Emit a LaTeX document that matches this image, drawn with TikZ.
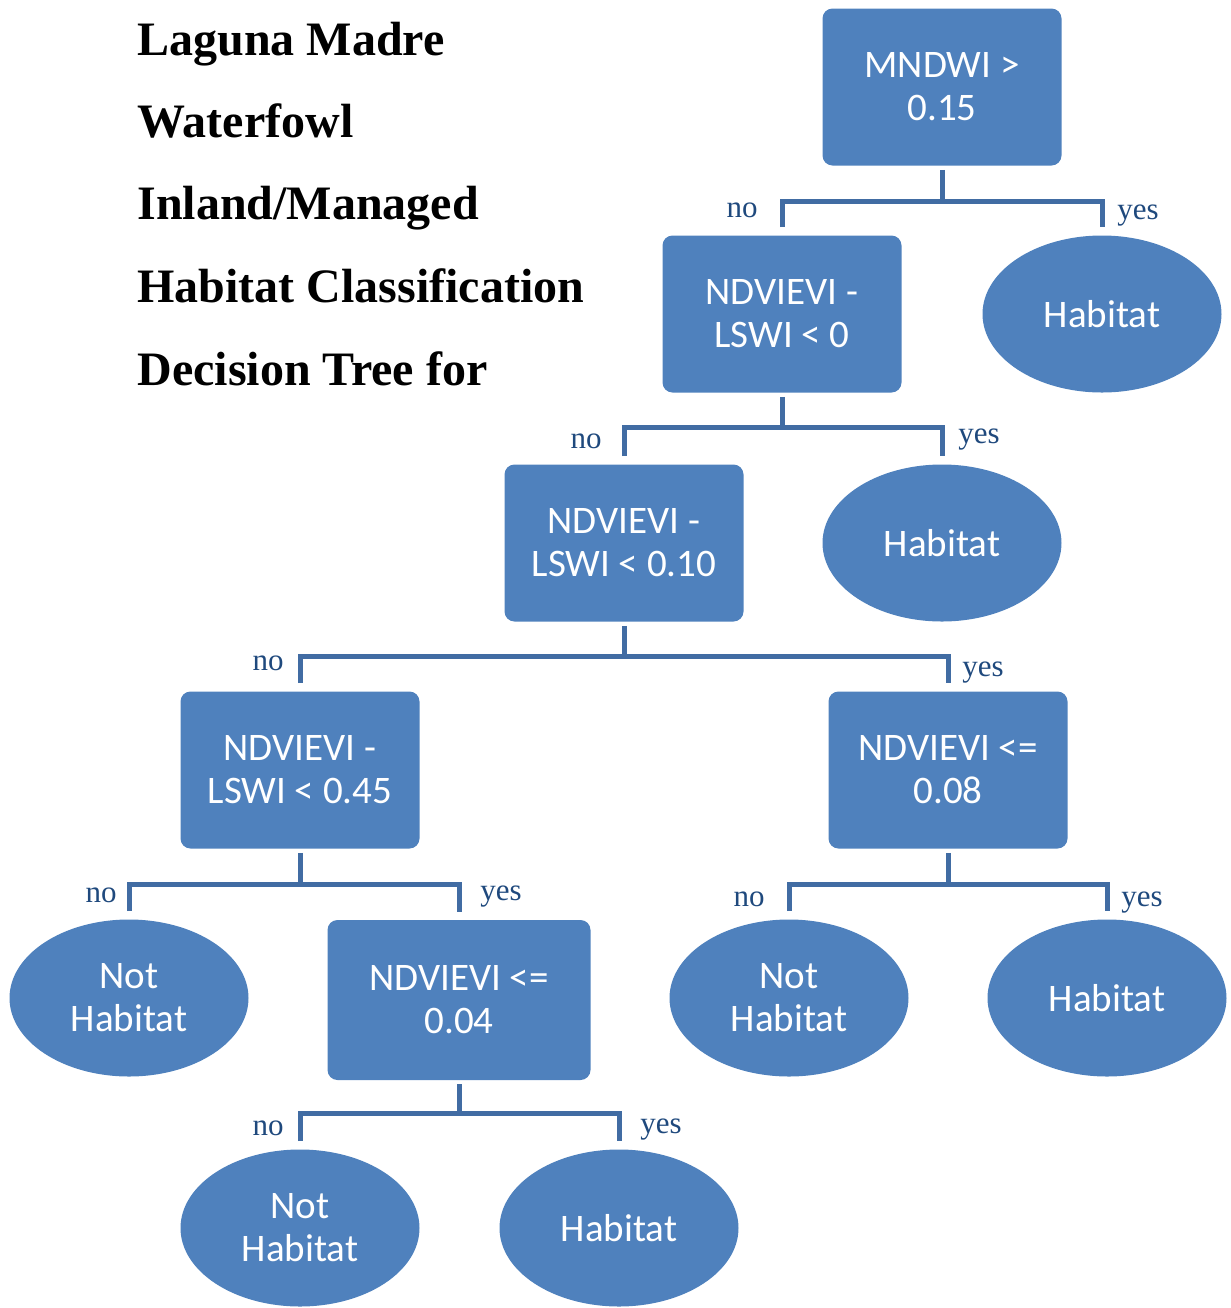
\documentclass[tikz,border=0pt]{standalone}
\usepackage{fontspec}
\setmainfont{Liberation Serif}
\newfontfamily\calfont{Carlito}
\usetikzlibrary{shapes.geometric,calc}
\definecolor{boxblue}{HTML}{4F81BD}
\definecolor{linkblue}{HTML}{416CA3}
\definecolor{lblblue}{HTML}{1F497D}
\tikzset{test/.style={rectangle,rounded corners=5pt,fill=boxblue,text=white,minimum width=119.5pt,minimum height=78.5pt,align=center,inner sep=2pt,font=\calfont\fontsize{19.5}{21.5}\selectfont}, leaf/.style={test,ellipse,rounded corners=0pt}, link/.style={draw=linkblue,line width=2.5pt}, lblno/.style={anchor=base east,inner sep=0pt,text=lblblue,font=\fontsize{15.5}{18}\selectfont}, lblyes/.style={lblno,anchor=base west}, title/.style={anchor=base west,inner sep=0pt,font=\bfseries\fontsize{24}{28}\selectfont}}
\begin{document}
\begin{tikzpicture}[x=0.5pt,y=-0.5pt]
\useasboundingbox (0,0) rectangle (1231,1308);
% heading
\node[title] (t1) at (137,55) {Laguna Madre};
\node[title] (t2) at (137,137) {Waterfowl};
\node[title] (t3) at (137,219) {Inland/Managed};
\node[title] (t4) at (137,302) {Habitat Classification};
\node[title] (t5) at (137,385) {Decision Tree for};
% tests and leaves
\node[test] (q1) at (942,87) {MNDWI >\\0.15};
\node[test] (q2) at (782,314) {NDVIEVI -\\LSWI < 0};
\node[leaf] (h1) at (1102,314) {Habitat};
\node[test] (q3) at (624,543) {NDVIEVI -\\LSWI < 0.10};
\node[leaf] (h2) at (942,543) {Habitat};
\node[test] (q4) at (300,770) {NDVIEVI -\\LSWI < 0.45};
\node[test] (q5) at (948,770) {NDVIEVI <=\\0.08};
\node[leaf] (n1) at (129,998) {Not\\Habitat};
\node[test,minimum width=131.5pt,minimum height=80pt] (q6) at (459,1000) {NDVIEVI <=\\0.04};
\node[leaf] (n2) at (789,998) {Not\\Habitat};
\node[leaf] (h3) at (1107,998) {Habitat};
\node[leaf] (n3) at (300,1228) {Not\\Habitat};
\node[leaf] (h4) at (619,1228) {Habitat};
% branches
\draw[link] ([yshift=-2pt]q1.south) -- ++(0,32) coordinate (j1);
\draw[link] ([yshift=4pt]q2.north) |- (j1) -| ([yshift=4pt]h1.north);
\node[lblno] (no1) at ($(j1 -| q2)+(-24,16)$) {no};
\node[lblyes] (yes1) at ($(j1 -| h1)+(15,18)$) {yes};
\draw[link] ([yshift=-2pt]q2.south) -- ++(0,31) coordinate (j2);
\draw[link] ([yshift=4pt]q3.north) |- (j2) -| ([yshift=4pt]h2.north);
\node[lblno] (no2) at ($(j2 -| q3)+(-22,21)$) {no};
\node[lblyes] (yes2) at ($(j2 -| h2)+(16,16)$) {yes};
\draw[link] ([yshift=-2pt]q3.south) -- ++(0,31) coordinate (j3);
\draw[link] ([yshift=4pt]q4.north) |- (j3) -| ([yshift=4pt]q5.north);
\node[lblno] (no3) at ($(j3 -| q4)+(-16,14)$) {no};
\node[lblyes] (yes3) at ($(j3 -| q5)+(14,20)$) {yes};
\draw[link] ([yshift=-2pt]q4.south) -- ++(0,32) coordinate (j4);
\draw[link] ([yshift=4pt]n1.north) |- (j4) -| ([yshift=4pt]q6.north);
\node[lblno] (no4) at ($(j4 -| n1)+(-12,18)$) {no};
\node[lblyes] (yes4) at ($(j4 -| q6)+(21,16)$) {yes};
\draw[link] ([yshift=-2pt]q5.south) -- ++(0,32) coordinate (j5);
\draw[link] ([yshift=4pt]n2.north) |- (j5) -| ([yshift=4pt]h3.north);
\node[lblno] (no5) at ($(j5 -| n2)+(-24,22)$) {no};
\node[lblyes] (yes5) at ($(j5 -| h3)+(14,22)$) {yes};
\draw[link] ([yshift=-2pt]q6.south) -- ++(0,29) coordinate (j6);
\draw[link] ([yshift=4pt]n3.north) |- (j6) -| ([yshift=4pt]h4.north);
\node[lblno] (no6) at ($(j6 -| n3)+(-16,22)$) {no};
\node[lblyes] (yes6) at ($(j6 -| h4)+(21,20)$) {yes};
\end{tikzpicture}
\end{document}
